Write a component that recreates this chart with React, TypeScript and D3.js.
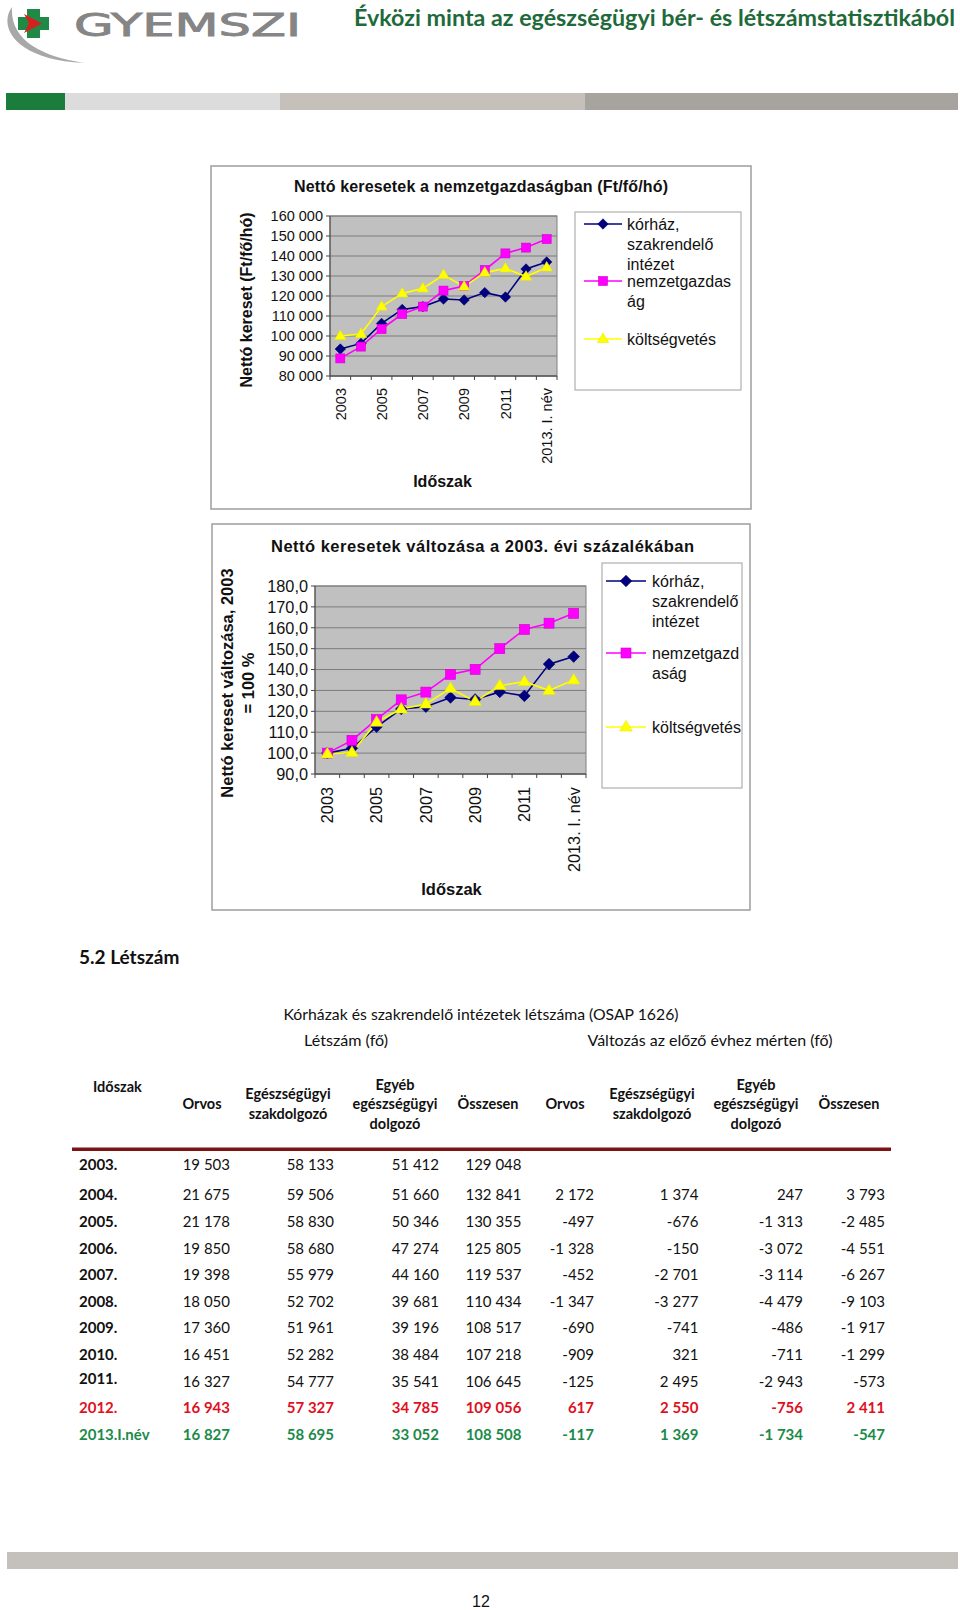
import React from "react";
import * as d3 from "d3";

// ---------- DATA ----------
const periods = ["2003", "2004", "2005", "2006", "2007", "2008", "2009", "2010", "2011", "2012", "2013. I. név"];
const shownPeriodLabels = ["2003", "2005", "2007", "2009", "2011", "2013. I. név"];
const seriesNames = ["kórház, szakrendelő intézet", "nemzetgazdaság", "költségvetés"];

// Chart 1: net earnings (Ft/fő/hó)
const hospitalNet = [93500, 96300, 106300, 113300, 114700, 118500, 118000, 121700, 119500, 133500, 137000];
const nationalNet = [88800, 94700, 103500, 111000, 114700, 122700, 125000, 133000, 141300, 144200, 148500];
const budgetNet = [100000, 101000, 114700, 121300, 123800, 130500, 124700, 131700, 133800, 129700, 134300];
const netTicks = [80000, 90000, 100000, 110000, 120000, 130000, 140000, 150000, 160000];

// Chart 2: index, 2003 = 100
const hospitalIdx = [100, 102.3, 112.6, 121.1, 122.2, 126.6, 125.7, 129.3, 127.4, 142.6, 146.2];
const nationalIdx = [100, 106.1, 116.1, 125.5, 129.2, 137.7, 140.1, 150.0, 159.2, 162.2, 166.9];
const budgetIdx = [99.6, 100.3, 114.8, 121.1, 123.5, 131.0, 124.7, 132.3, 134.2, 130.0, 135.0];
const idxTicks = [90, 100, 110, 120, 130, 140, 150, 160, 170, 180];

const legend1Lines = [["kórház,", "szakrendelő", "intézet"], ["nemzetgazdas", "ág"], ["költségvetés"]];
const legend2Lines = [["kórház,", "szakrendelő", "intézet"], ["nemzetgazd", "aság"], ["költségvetés"]];

// Table
const tableYears = ["2003.", "2004.", "2005.", "2006.", "2007.", "2008.", "2009.", "2010.", "2011.", "2012.", "2013.I.név"];
const orvos = [19503, 21675, 21178, 19850, 19398, 18050, 17360, 16451, 16327, 16943, 16827];
const szakdolgozo = [58133, 59506, 58830, 58680, 55979, 52702, 51961, 52282, 54777, 57327, 58695];
const egyeb = [51412, 51660, 50346, 47274, 44160, 39681, 39196, 38484, 35541, 34785, 33052];
const osszesen = [129048, 132841, 130355, 125805, 119537, 110434, 108517, 107218, 106645, 109056, 108508];
const dOrvos = [null, 2172, -497, -1328, -452, -1347, -690, -909, -125, 617, -117];
const dSzak = [null, 1374, -676, -150, -2701, -3277, -741, 321, 2495, 2550, 1369];
const dEgyeb = [null, 247, -1313, -3072, -3114, -4479, -486, -711, -2943, -756, -1734];
const dOssz = [null, 3793, -2485, -4551, -6267, -9103, -1917, -1299, -573, 2411, -547];
const colHeaders = [
  ["Orvos"], ["Egészségügyi", "szakdolgozó"], ["Egyéb", "egészségügyi", "dolgozó"], ["Összesen"],
  ["Orvos"], ["Egészségügyi", "szakdolgozó"], ["Egyéb", "egészségügyi", "dolgozó"], ["Összesen"],
];

// ---------- HELPERS ----------
const hu = d3.formatLocale({ decimal: ",", thousands: " ", grouping: [3], currency: ["", ""], minus: "-" });
const fmtInt = hu.format(",d");
const fmtDec = hu.format(".1f");

const COLORS = ["#000080", "#ff00ff", "#ffff00"];
const ARIAL = "'Liberation Sans', Arial, sans-serif";
const LATO = "Lato, 'Open Sans', sans-serif";

function Marker({ kind, x, y, s }: { kind: number; x: number; y: number; s: number }) {
  if (kind === 0) {
    const r = s * 0.58;
    return <path d={`M${x},${y - r}L${x + r},${y}L${x},${y + r}L${x - r},${y}Z`} fill="#000080" stroke="#000060" strokeWidth={0.6} />;
  }
  if (kind === 1) {
    const h = s / 2;
    return <rect x={x - h} y={y - h} width={s} height={s} fill="#ff00ff" stroke="#d000d0" strokeWidth={0.6} />;
  }
  const r = s * 0.66;
  return <path d={`M${x},${y - r}L${x + r * 0.95},${y + r * 0.6}L${x - r * 0.95},${y + r * 0.6}Z`} fill="#ffff00" stroke="#e8e800" strokeWidth={0.6} />;
}

type ChartProps = {
  frame: { x: number; y: number; w: number; h: number };
  title: string; titleX: number; titleY: number; titleLen: number; titleSize: number;
  plot: { x0: number; x1: number; y0: number; y1: number };
  domain: [number, number]; ticks: number[]; fmt: (v: number) => string;
  tickSize: number; labelGap: number;
  yTitle: string[]; yTitleXs: number[]; yTitleY: number; yTitleSize: number;
  xTitleX: number; xTitleY: number;
  series: number[][]; markerSize: number;
  legend: { x: number; y: number; w: number; h: number; lx0: number; lx1: number; tx: number; ys: number[]; lines: string[][]; size: number };
};

function LineChart(p: ChartProps) {
  const x = d3.scaleBand<string>().domain(periods).range([p.plot.x0, p.plot.x1]);
  const y = d3.scaleLinear().domain(p.domain).range([p.plot.y1, p.plot.y0]);
  const cx = (i: number) => (x(periods[i]) as number) + x.bandwidth() / 2;
  const line = d3.line<number>().x((_, i) => cx(i)).y((d) => y(d));
  const edges = [...periods.map((c) => x(c) as number), p.plot.x1];
  return (
    <g>
      <rect x={p.frame.x} y={p.frame.y} width={p.frame.w} height={p.frame.h} fill="#fff" stroke="#a3a3a3" strokeWidth={1.6} />
      <text x={p.titleX} y={p.titleY} textAnchor="middle" fontFamily={ARIAL} fontWeight="bold" fontSize={p.titleSize}
        textLength={p.titleLen} lengthAdjust="spacing" fill="#111">{p.title}</text>
      {/* plot area */}
      <rect x={p.plot.x0} y={p.plot.y0} width={p.plot.x1 - p.plot.x0} height={p.plot.y1 - p.plot.y0} fill="#c0c0c0" stroke="#808080" strokeWidth={1} />
      {p.ticks.map((t) => (
        <g key={t}>
          <line x1={p.plot.x0} x2={p.plot.x1} y1={y(t)} y2={y(t)} stroke="#7c7c7c" strokeWidth={1} />
          <line x1={p.plot.x0 - 4} x2={p.plot.x0} y1={y(t)} y2={y(t)} stroke="#444" strokeWidth={1} />
          <text x={p.plot.x0 - 7} y={y(t)} dy="0.36em" textAnchor="end" fontFamily={ARIAL} fontSize={p.tickSize} fill="#111">{p.fmt(t)}</text>
        </g>
      ))}
      <line x1={p.plot.x0} x2={p.plot.x0} y1={p.plot.y0} y2={p.plot.y1} stroke="#444" strokeWidth={1} />
      <line x1={p.plot.x0} x2={p.plot.x1} y1={p.plot.y1} y2={p.plot.y1} stroke="#444" strokeWidth={1} />
      {edges.map((e, i) => (
        <line key={i} x1={e} x2={e} y1={p.plot.y1} y2={p.plot.y1 + 4} stroke="#444" strokeWidth={1} />
      ))}
      {periods.map((c, i) =>
        shownPeriodLabels.includes(c) ? (
          <text key={c} transform={`translate(${cx(i)},${p.plot.y1 + p.labelGap}) rotate(-90)`} textAnchor="end" dy="0.36em"
            fontFamily={ARIAL} fontSize={p.tickSize} fill="#111">{c}</text>
        ) : null
      )}
      {/* series */}
      {p.series.map((s, k) => (
        <path key={k} d={line(s) as string} fill="none" stroke={COLORS[k]} strokeWidth={1.6} />
      ))}
      {p.series.map((s, k) => (
        <g key={k}>{s.map((v, i) => <Marker key={i} kind={k} x={cx(i)} y={y(v)} s={p.markerSize} />)}</g>
      ))}
      {/* axis titles */}
      {p.yTitle.map((t, i) => (
        <text key={i} transform={`translate(${p.yTitleXs[i]},${p.yTitleY}) rotate(-90)`} textAnchor="middle" dy="0.36em"
          fontFamily={ARIAL} fontWeight="bold" fontSize={p.yTitleSize} fill="#111">{t}</text>
      ))}
      <text x={p.xTitleX} y={p.xTitleY} textAnchor="middle" fontFamily={ARIAL} fontWeight="bold" fontSize={p.yTitleSize} fill="#111">Időszak</text>
      {/* legend */}
      <rect x={p.legend.x} y={p.legend.y} width={p.legend.w} height={p.legend.h} fill="#fff" stroke="#b0b0b0" strokeWidth={1.2} />
      {seriesNames.map((n, k) => (
        <g key={n}>
          <line x1={p.legend.lx0} x2={p.legend.lx1} y1={p.legend.ys[k]} y2={p.legend.ys[k]} stroke={COLORS[k]} strokeWidth={1.6} />
          <Marker kind={k} x={(p.legend.lx0 + p.legend.lx1) / 2} y={p.legend.ys[k]} s={p.markerSize} />
          {p.legend.lines[k].map((t, j) => (
            <text key={j} x={p.legend.tx} y={p.legend.ys[k] + 6 + j * 20} fontFamily={ARIAL} fontSize={p.legend.size} fill="#111">{t}</text>
          ))}
        </g>
      ))}
    </g>
  );
}

function Header() {
  return (
    <g>
      {/* logo swoosh */}
      <path d="M12,7 C-2,26 14,60 84,63 C40,56 10,40 12,7 Z" fill="#a8a8a8" />
      {/* cross */}
      <path d="M27,9 H40 V17 H49 V30 H40 V38 H27 V30 H18 V17 H27 Z" fill="#1f8a45" />
      <path d="M24,14 L42,23.5 L24,33 L29,23.5 Z" fill="#d62020" />
      <text x={74} y={36} fontFamily="'DejaVu Sans', sans-serif" fontSize={32} textLength={227} lengthAdjust="spacingAndGlyphs"
        fill="#858585" stroke="#858585" strokeWidth={0.9}>GYEMSZI</text>
      <text x={354} y={26} fontFamily={LATO} fontWeight="bold" fontSize={23} textLength={601} lengthAdjust="spacingAndGlyphs" fill="#1f6a3a">Évközi minta az egészségügyi bér- és létszámstatisztikából</text>
      <rect x={6} y={93} width={59} height={17} fill="#1a7d3b" />
      <rect x={65} y={93} width={215} height={17} fill="#dcdcdc" />
      <rect x={280} y={93} width={305} height={17} fill="#c5c0ba" />
      <rect x={585} y={93} width={373} height={17} fill="#a7a39e" />
    </g>
  );
}

function Table() {
  const numCols = [orvos, szakdolgozo, egyeb, osszesen, dOrvos, dSzak, dEgyeb, dOssz];
  const headCenters = [202, 288, 395, 488, 565, 652, 756, 849];
  const rightEdges = [230, 334, 439, 521.5, 594, 698.5, 803, 885];
  const rowY = (i: number) => (i === 0 ? 1165 : 1195 + (i - 1) * 26.6);
  const rowColor = (y: string) => (y === "2012." ? "#e0101e" : y === "2013.I.név" ? "#1c8a4a" : "#111");
  return (
    <g fontFamily={LATO}>
      <text x={79} y={957} dy="0.36em" fontWeight="bold" fontSize={19} fill="#111">5.2 Létszám</text>
      <text x={481} y={1015} dy="0.36em" textAnchor="middle" fontSize={15} textLength={395} lengthAdjust="spacingAndGlyphs" fill="#111">Kórházak és szakrendelő intézetek létszáma (OSAP 1626)</text>
      <text x={346} y={1041} dy="0.36em" textAnchor="middle" fontSize={15} textLength={84} lengthAdjust="spacingAndGlyphs" fill="#111">Létszám (fő)</text>
      <text x={710} y={1041} dy="0.36em" textAnchor="middle" fontSize={15} textLength={245} lengthAdjust="spacingAndGlyphs" fill="#111">Változás az előző évhez mérten (fő)</text>
      <text x={93} y={1087} dy="0.36em" fontWeight="bold" fontSize={14.5} fill="#111">Időszak</text>
      {colHeaders.map((lines, c) =>
        lines.map((t, j) => (
          <text key={`${c}-${j}`} x={headCenters[c]} y={1104 + (j - (lines.length - 1) / 2) * 19.5} dy="0.36em" textAnchor="middle"
            fontWeight="bold" fontSize={14.5} fill="#111">{t}</text>
        ))
      )}
      <rect x={72} y={1147.5} width={819} height={3.5} fill="#7d1214" />
      {tableYears.map((yr, i) => {
        const bold = yr === "2012." || yr === "2013.I.név";
        return (
          <g key={yr} fill={rowColor(yr)}>
            <text x={79} y={rowY(i) - (yr === "2011." ? 3 : 0)} dy="0.36em" fontWeight="bold" fontSize={15}>{yr}</text>
            {numCols.map((col, c) =>
              col[i] == null ? null : (
                <text key={c} x={rightEdges[c]} y={rowY(i)} dy="0.36em" textAnchor="end" fontWeight={bold ? "bold" : "normal"} fontSize={15}>
                  {fmtInt(col[i] as number)}
                </text>
              )
            )}
          </g>
        );
      })}
    </g>
  );
}

export default function App() {
  return (
    <svg width={960} height={1610} viewBox="0 0 960 1610" style={{ position: "absolute", left: 0, top: 0, background: "#fff" }}>
      <rect width={960} height={1610} fill="#fff" />
      <Header />
      <LineChart
        frame={{ x: 211, y: 166, w: 540, h: 343 }}
        title="Nettó keresetek a nemzetgazdaságban (Ft/fő/hó)" titleX={481} titleY={192} titleLen={374} titleSize={16}
        plot={{ x0: 330, x1: 557, y0: 216, y1: 376 }}
        domain={[80000, 160000]} ticks={netTicks} fmt={fmtInt} tickSize={14.5} labelGap={12}
        yTitle={["Nettó kereset (Ft/fő/hó)"]} yTitleXs={[246.5]} yTitleY={300} yTitleSize={16}
        xTitleX={442.5} xTitleY={487}
        series={[hospitalNet, nationalNet, budgetNet]} markerSize={9}
        legend={{ x: 575, y: 212, w: 166, h: 178, lx0: 584, lx1: 622, tx: 627, ys: [224, 281, 339], lines: legend1Lines, size: 16 }}
      />
      <LineChart
        frame={{ x: 212, y: 524, w: 538, h: 386 }}
        title="Nettó keresetek változása a 2003. évi százalékában" titleX={482.5} titleY={552} titleLen={423} titleSize={16.5}
        plot={{ x0: 315, x1: 586, y0: 586, y1: 774 }}
        domain={[90, 180]} ticks={idxTicks} fmt={fmtDec} tickSize={16.3} labelGap={13}
        yTitle={["Nettó kereset változása, 2003", "= 100 %"]} yTitleXs={[227.5, 248]} yTitleY={683} yTitleSize={16.5}
        xTitleX={451.5} xTitleY={895}
        series={[hospitalIdx, nationalIdx, budgetIdx]} markerSize={10}
        legend={{ x: 602, y: 563, w: 140, h: 225, lx0: 606, lx1: 646, tx: 652, ys: [581, 653, 727], lines: legend2Lines, size: 16 }}
      />
      <Table />
      <rect x={7} y={1552} width={951} height={17} fill="#c4c0bb" />
      <text x={481} y={1607} textAnchor="middle" fontFamily={ARIAL} fontSize={16} fill="#111">12</text>
    </svg>
  );
}
